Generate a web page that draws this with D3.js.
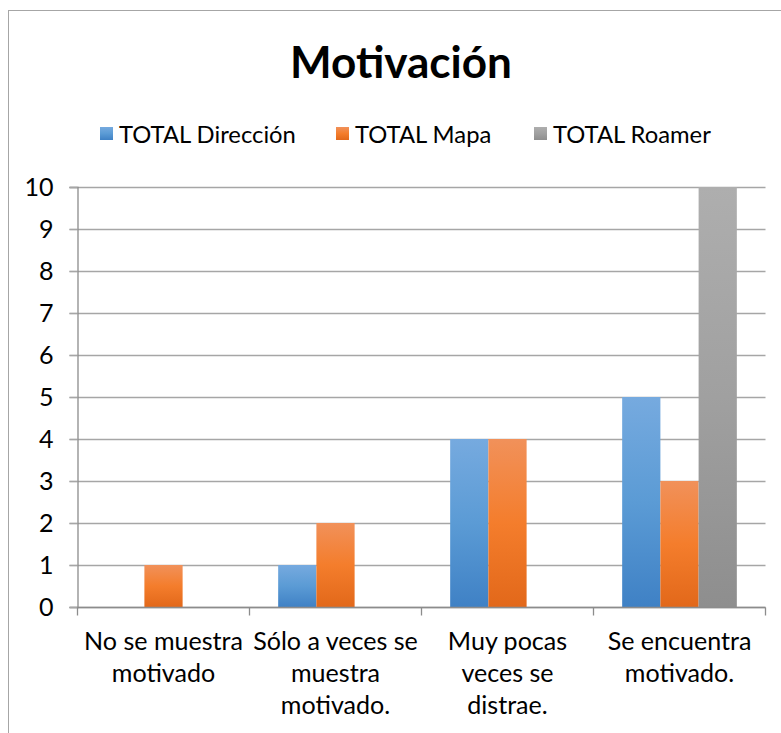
<!DOCTYPE html>
<html>
<head>
<meta charset="utf-8">
<script src="https://cdn.jsdelivr.net/npm/d3@7"></script>
<style>
  html, body { margin: 0; padding: 0; background: #fff; }
  svg { display: block; }
  text { font-family: Lato, "Open Sans", sans-serif; fill: #000; }
</style>
</head>
<body>
<svg id="chart" width="781" height="733"></svg>
<script>
// Categories (each label broken into its displayed lines)
const categories = [
  "No se muestra\nmotivado",
  "Sólo a veces se\nmuestra\nmotivado.",
  "Muy pocas\nveces se\ndistrae.",
  "Se encuentra\nmotivado."
];
const seriesNames = ["TOTAL Dirección", "TOTAL Mapa", "TOTAL Roamer"];
const direccion = [0, 1, 4, 5];
const mapa = [1, 2, 4, 3];
const roamer = [0, 0, 0, 10];
const yTicks = [0, 1, 2, 3, 4, 5, 6, 7, 8, 9, 10];
const title = "Motivación";

const seriesValues = [direccion, mapa, roamer];
const gradients = [
  ["#76aadf", "#5b9bd5", "#3f81c5"],
  ["#f1915a", "#f47d2c", "#e2681a"],
  ["#aeaeae", "#a0a0a0", "#8e8e8e"]
];

const svg = d3.select("#chart");
const defs = svg.append("defs");
gradients.forEach((g, i) => {
  const lg = defs.append("linearGradient")
    .attr("id", "grad" + i)
    .attr("x1", 0).attr("y1", 0).attr("x2", 0).attr("y2", 1);
  lg.append("stop").attr("offset", "0%").attr("stop-color", g[0]);
  lg.append("stop").attr("offset", "50%").attr("stop-color", g[1]);
  lg.append("stop").attr("offset", "100%").attr("stop-color", g[2]);
});

// Fit a font size so a sample string reaches a given width
function fitSize(sample, weight, target) {
  const t = svg.append("text").attr("font-size", 100).attr("font-weight", weight).text(sample);
  const w = t.node().getComputedTextLength();
  t.remove();
  return 100 * target / w;
}
const titleSize = fitSize(title, "bold", 222);
const labelSize = fitSize("No se muestra", "normal", 159);
const legendSize = fitSize("TOTAL Dirección", "normal", 177);

// Outer frame
svg.append("rect")
  .attr("x", 8.5).attr("y", 10.5)
  .attr("width", 800).attr("height", 760)
  .attr("fill", "none").attr("stroke", "#a6a6a6").attr("stroke-width", 1);

// Title
svg.append("text")
  .attr("x", 401).attr("y", 78)
  .attr("text-anchor", "middle")
  .attr("font-weight", "bold")
  .attr("font-size", titleSize)
  .text(title);

// Scales
const margin = { left: 77.5, right: 765.5, top: 187, bottom: 607 };
const x0 = d3.scaleBand().domain(categories).range([margin.left, margin.right]).padding(0);
const x1 = d3.scaleBand().domain(seriesNames).range([0, x0.bandwidth()]).paddingInner(0).paddingOuter(0.75);
const y = d3.scaleLinear().domain([0, 10]).range([margin.bottom, margin.top]);

// Gridlines
svg.append("g")
  .selectAll("line")
  .data(yTicks)
  .join("line")
  .attr("x1", margin.left - 8).attr("x2", margin.right)
  .attr("y1", d => Math.round(y(d)) + 0.5).attr("y2", d => Math.round(y(d)) + 0.5)
  .attr("stroke", "#a6a6a6").attr("stroke-width", 1.3);

// Y axis
const yAxis = svg.append("g")
  .attr("transform", `translate(${margin.left},0)`)
  .call(d3.axisLeft(y).tickValues(yTicks).tickFormat(d3.format("d")).tickSize(8).tickPadding(16));
yAxis.select(".domain").attr("stroke", "#8c8c8c").attr("stroke-width", 1.3);
yAxis.selectAll(".tick line").attr("stroke", "#a6a6a6").attr("stroke-width", 1.3);
yAxis.selectAll(".tick text")
  .attr("font-family", "Lato, 'Open Sans', sans-serif")
  .attr("font-size", labelSize)
  .attr("fill", "#000");

// Bars
const groups = svg.append("g")
  .selectAll("g")
  .data(categories.map((c, i) => ({ c, i })))
  .join("g")
  .attr("transform", d => `translate(${x0(d.c)},0)`);

groups.selectAll("rect")
  .data(d => seriesNames.map((s, k) => ({ s, k, v: seriesValues[k][d.i] })).filter(e => e.v > 0))
  .join("rect")
  .attr("x", e => x1(e.s))
  .attr("width", x1.bandwidth())
  .attr("y", e => y(e.v))
  .attr("height", e => y(0) - y(e.v))
  .attr("fill", e => `url(#grad${e.k})`);

// X axis
const xAxis = svg.append("g")
  .attr("transform", `translate(0,${Math.round(margin.bottom) + 0.5})`);
xAxis.append("line")
  .attr("x1", margin.left).attr("x2", margin.right)
  .attr("stroke", "#8c8c8c").attr("stroke-width", 1.3);
const bounds = categories.map(c => x0(c)).concat([margin.right]);
xAxis.selectAll("line.tk")
  .data(bounds)
  .join("line")
  .attr("class", "tk")
  .attr("x1", d => d).attr("x2", d => d)
  .attr("y1", 0).attr("y2", 8)
  .attr("stroke", "#8c8c8c").attr("stroke-width", 1.3);

// Category labels
const lineH = 32;
svg.append("g")
  .selectAll("text")
  .data(categories)
  .join("text")
  .attr("text-anchor", "middle")
  .attr("font-size", labelSize)
  .each(function(c) {
    const lines = c.split("\n");
    const t = d3.select(this);
    lines.forEach((ln, j) => {
      t.append("tspan")
        .attr("x", x0(c) + x0.bandwidth() / 2)
        .attr("y", 650 + j * lineH)
        .text(ln);
    });
  });

// Legend
const legendX = [100, 336, 534];
const legend = svg.append("g");
seriesNames.forEach((s, k) => {
  legend.append("rect")
    .attr("x", legendX[k]).attr("y", 127)
    .attr("width", 13).attr("height", 13)
    .attr("fill", `url(#grad${k})`);
  legend.append("text")
    .attr("x", legendX[k] + 19).attr("y", 143)
    .attr("font-size", legendSize)
    .text(s);
});
</script>
</body>
</html>
